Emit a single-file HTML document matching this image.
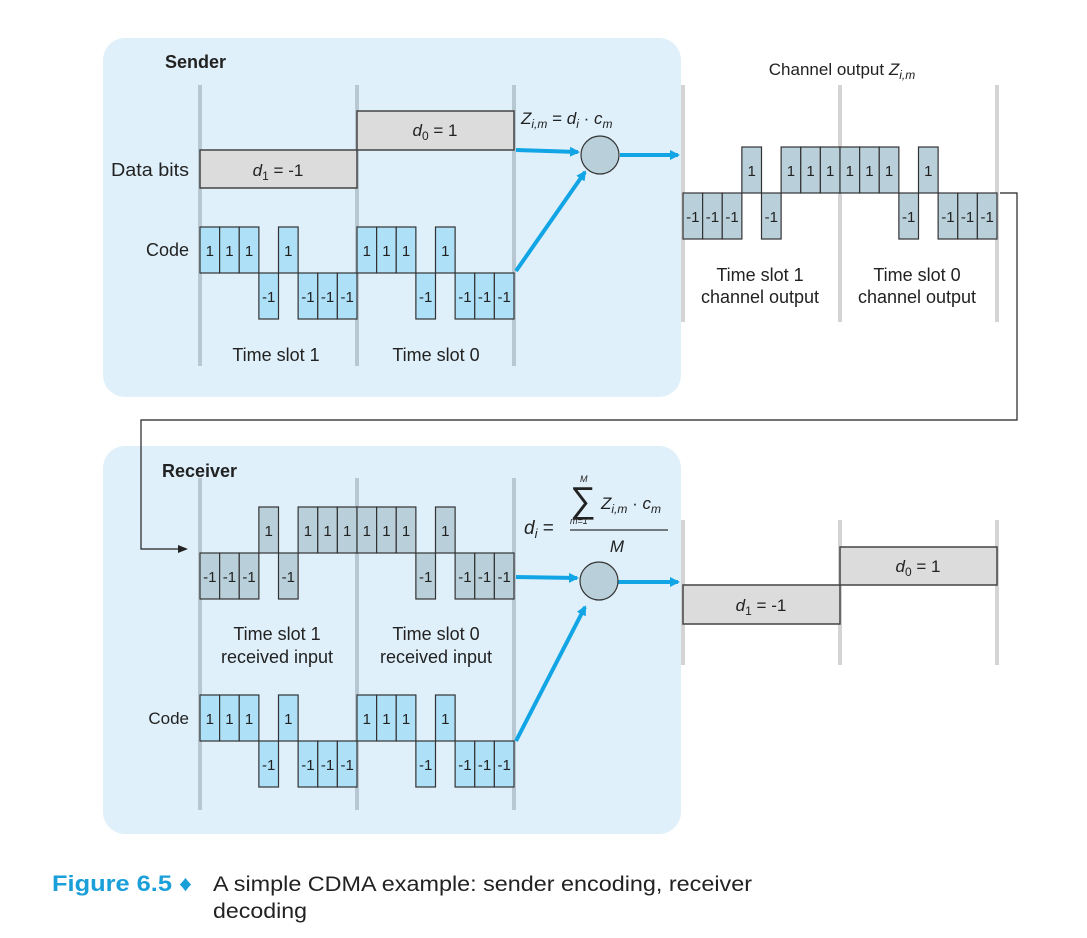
<!DOCTYPE html>
<html><head><meta charset="utf-8"><style>
html,body{margin:0;padding:0;background:#fff}
svg{display:block}
text{font-family:"Liberation Sans",sans-serif;fill:#222}
</style></head><body>
<svg id="s" width="1087" height="938" viewBox="0 0 1087 938" xmlns="http://www.w3.org/2000/svg">
<defs>
<marker id="ab" markerWidth="10" markerHeight="10" refX="8" refY="5" orient="auto" markerUnits="userSpaceOnUse"><path d="M0,0 L10,5 L0,10 z" fill="#12a5e6"/></marker>
<marker id="ak" markerWidth="10" markerHeight="10" refX="8" refY="5" orient="auto" markerUnits="userSpaceOnUse"><path d="M0,1 L10,5 L0,9 z" fill="#222"/></marker>
</defs>
<rect x="103" y="38" width="578" height="359" rx="22" fill="#dff0fa"/>
<rect x="103" y="446" width="578" height="388" rx="22" fill="#dff0fa"/>
<text x="165" y="68" font-size="18" font-weight="bold">Sender</text>
<text x="162" y="477" font-size="18" font-weight="bold">Receiver</text>
<g stroke="#b8c8d2" stroke-width="4">
<line x1="200" y1="85" x2="200" y2="366"/><line x1="357" y1="85" x2="357" y2="366"/><line x1="514" y1="85" x2="514" y2="366"/>
<line x1="200" y1="478" x2="200" y2="810"/><line x1="357" y1="478" x2="357" y2="810"/><line x1="514" y1="478" x2="514" y2="810"/>
</g>
<g stroke="#d4d4d4" stroke-width="4">
<line x1="683" y1="85" x2="683" y2="322"/><line x1="840" y1="85" x2="840" y2="322"/><line x1="997" y1="85" x2="997" y2="322"/>
<line x1="683" y1="520" x2="683" y2="665"/><line x1="840" y1="520" x2="840" y2="665"/><line x1="997" y1="520" x2="997" y2="665"/>
</g>
<rect x="200" y="150" width="157" height="38" fill="#dcdcdc" stroke="#444" stroke-width="1.5"/>
<rect x="357" y="111" width="157" height="39" fill="#dcdcdc" stroke="#444" stroke-width="1.5"/>
<text x="278" y="176" font-size="17" text-anchor="middle"><tspan font-style="italic">d</tspan><tspan font-size="12" dy="4">1</tspan><tspan dy="-4"> = -1</tspan></text>
<text x="435" y="136" font-size="17" text-anchor="middle"><tspan font-style="italic">d</tspan><tspan font-size="12" dy="4">0</tspan><tspan dy="-4"> = 1</tspan></text>
<text x="189" y="176" font-size="18" text-anchor="end" textLength="78" lengthAdjust="spacingAndGlyphs">Data bits</text>
<text x="189" y="256" font-size="18" text-anchor="end">Code</text>
<text x="276" y="361" font-size="18" text-anchor="middle">Time slot 1</text>
<text x="436" y="361" font-size="18" text-anchor="middle">Time slot 0</text>
<rect x="683" y="585" width="157" height="39" fill="#dcdcdc" stroke="#444" stroke-width="1.5"/>
<rect x="840" y="547" width="157" height="38" fill="#dcdcdc" stroke="#444" stroke-width="1.5"/>
<text x="761" y="611" font-size="17" text-anchor="middle"><tspan font-style="italic">d</tspan><tspan font-size="12" dy="4">1</tspan><tspan dy="-4"> = -1</tspan></text>
<text x="918" y="572" font-size="17" text-anchor="middle"><tspan font-style="italic">d</tspan><tspan font-size="12" dy="4">0</tspan><tspan dy="-4"> = 1</tspan></text>
<text x="842" y="75" font-size="17" text-anchor="middle">Channel output <tspan font-style="italic">Z</tspan><tspan font-size="12" font-style="italic" dy="4">i,m</tspan></text>
<text x="760" y="281" font-size="18" text-anchor="middle">Time slot 1</text>
<text x="760" y="303" font-size="18" text-anchor="middle">channel output</text>
<text x="917" y="281" font-size="18" text-anchor="middle">Time slot 0</text>
<text x="917" y="303" font-size="18" text-anchor="middle">channel output</text>
<text x="277" y="640" font-size="18" text-anchor="middle">Time slot 1</text>
<text x="277" y="663" font-size="18" text-anchor="middle">received input</text>
<text x="436" y="640" font-size="18" text-anchor="middle">Time slot 0</text>
<text x="436" y="663" font-size="18" text-anchor="middle">received input</text>
<text x="189" y="724" font-size="17" text-anchor="end">Code</text>
<g id="chips"></g>
<text x="521" y="124" font-size="17"><tspan font-style="italic">Z</tspan><tspan font-size="12" font-style="italic" dy="4">i,m</tspan><tspan dy="-4"> = </tspan><tspan font-style="italic">d</tspan><tspan font-size="12" font-style="italic" dy="4">i</tspan><tspan dy="-4"> · </tspan><tspan font-style="italic">c</tspan><tspan font-size="12" font-style="italic" dy="4">m</tspan></text>
<text x="524" y="534" font-size="19"><tspan font-style="italic">d</tspan><tspan font-size="13" font-style="italic" dy="4">i</tspan><tspan dy="-4"> =</tspan></text>
<text x="570" y="512" font-size="36" font-family="DejaVu Sans">∑</text>
<text x="580" y="482" font-size="9" font-style="italic">M</text>
<text x="570" y="524" font-size="9" font-style="italic">m=1</text>
<text x="601" y="509" font-size="17"><tspan font-style="italic">Z</tspan><tspan font-size="12" font-style="italic" dy="4">i,m</tspan><tspan dy="-4"> · </tspan><tspan font-style="italic">c</tspan><tspan font-size="12" font-style="italic" dy="4">m</tspan></text>
<line x1="570" y1="530" x2="668" y2="530" stroke="#333" stroke-width="1.2"/>
<text x="617" y="552" font-size="17" font-style="italic" text-anchor="middle">M</text>
<g stroke="#12a5e6" stroke-width="4" fill="none">
<line x1="516" y1="150" x2="578" y2="152" marker-end="url(#ab)"/>
<line x1="516" y1="271" x2="585" y2="172" marker-end="url(#ab)"/>
<line x1="620" y1="155" x2="678" y2="155" marker-end="url(#ab)"/>
<line x1="516" y1="577" x2="577" y2="578" marker-end="url(#ab)"/>
<line x1="516" y1="741" x2="585" y2="607" marker-end="url(#ab)"/>
<line x1="618" y1="582" x2="678" y2="582" marker-end="url(#ab)"/>
</g>
<circle cx="600" cy="155" r="19" fill="#b9d0da" stroke="#333" stroke-width="1.2"/>
<circle cx="599" cy="581" r="19" fill="#b9d0da" stroke="#333" stroke-width="1.2"/>
<polyline points="1000,193 1017,193 1017,420 141,420 141,549 186,549" fill="none" stroke="#222" stroke-width="1.2" marker-end="url(#ak)"/>
<text x="52" y="891" font-size="22" font-weight="bold" style="fill:#1a9fd9" textLength="140" lengthAdjust="spacingAndGlyphs">Figure 6.5 ♦</text>
<text x="213" y="891" font-size="21" textLength="539" lengthAdjust="spacingAndGlyphs">A simple CDMA example: sender encoding, receiver</text>
<text x="213" y="918" font-size="21" textLength="94" lengthAdjust="spacingAndGlyphs">decoding</text>
</svg>
<script>
var code=[1,1,1,-1,1,-1,-1,-1],w=157/8,g=document.getElementById('chips'),NS='http://www.w3.org/2000/svg';
function row(x0,base,mult,fill){
 for(var s=0;s<2;s++)for(var i=0;i<8;i++){
  var v=code[i]*mult[s],x=x0+(s*8+i)*w,y=v>0?base-46:base;
  var r=document.createElementNS(NS,'rect');r.setAttribute('x',x);r.setAttribute('y',y);r.setAttribute('width',w);r.setAttribute('height',46);
  r.setAttribute('fill',fill);r.setAttribute('stroke','#333');r.setAttribute('stroke-width','1.2');g.appendChild(r);
  var t=document.createElementNS(NS,'text');t.setAttribute('x',x+w/2);t.setAttribute('y',y+29);t.setAttribute('font-size','15');t.setAttribute('text-anchor','middle');
  t.textContent=v>0?'1':'-1';g.appendChild(t);}
}
row(200,273,[1,1],'#aee0f7');
row(683,193,[-1,1],'#b9d0da');
row(200,553,[-1,1],'#b9d0da');
row(200,741,[1,1],'#aee0f7');
</script>
</body></html>
